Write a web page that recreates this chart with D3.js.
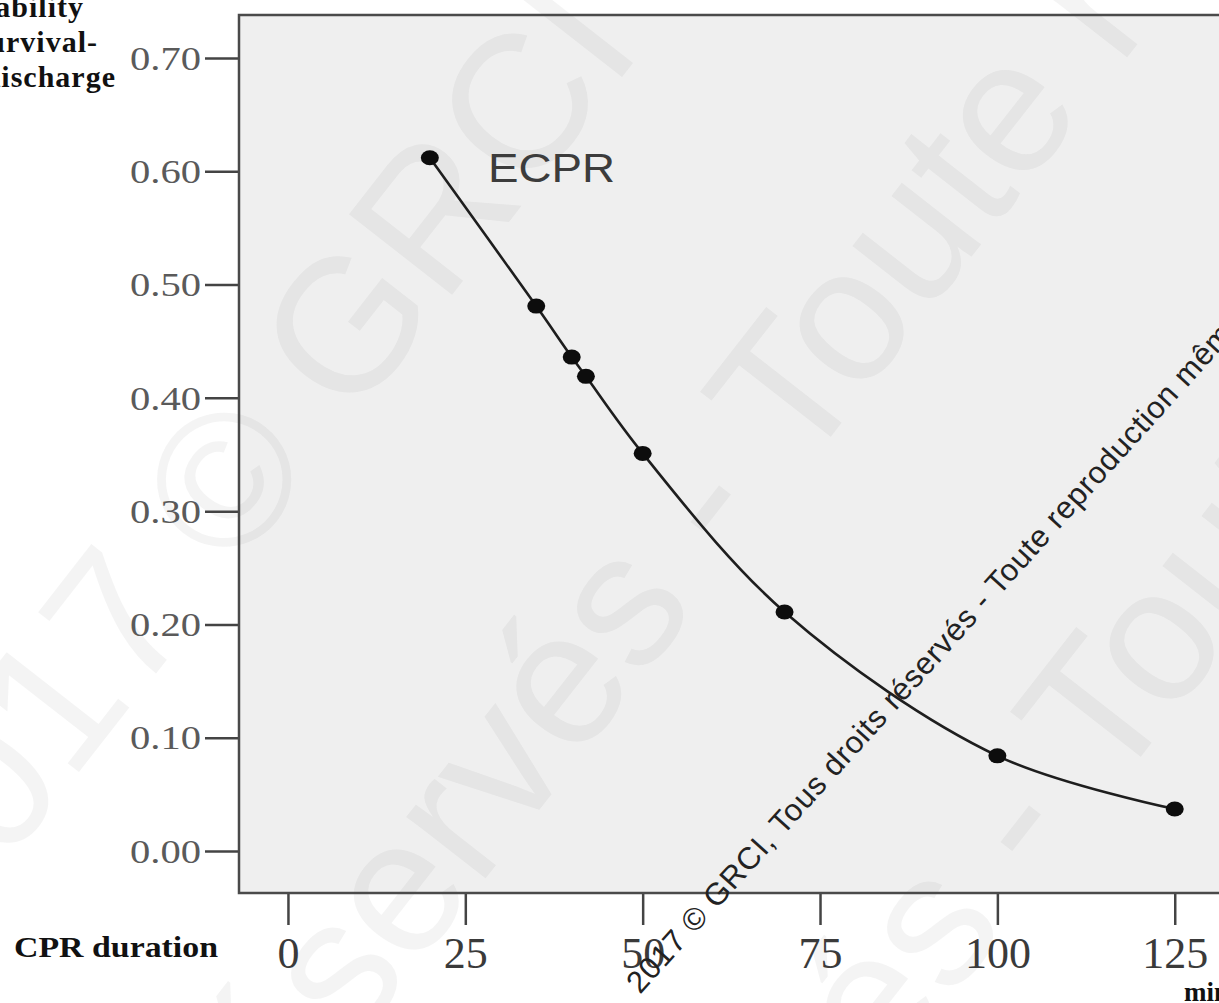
<!DOCTYPE html>
<html>
<head>
<meta charset="utf-8">
<script src="https://cdn.jsdelivr.net/npm/d3@7"></script>
<style>
  html, body { margin: 0; padding: 0; background: #fff; }
  svg { display: block; }
</style>
</head>
<body>
<svg id="chart" width="1219" height="1003"></svg>
<script>
// data
var cprMinutes = [20, 35, 40, 42, 50, 70, 100, 125];
var survival   = [0.612, 0.481, 0.436, 0.419, 0.351, 0.211, 0.084, 0.037];
var xTicks = [0, 25, 50, 75, 100, 125];
var yTicks = [0, 0.1, 0.2, 0.3, 0.4, 0.5, 0.6, 0.7];
var yTitle = ["Probability", "of survival-", "to discharge"];
var seriesName = "ECPR";
var stamp = "2017 © GRCI, Tous droits réservés - Toute reproduction même partielle interdite";

var svg = d3.select("#chart");

var plotL = 239, plotT = 15, plotB = 893, plotR = 1240;

var x = d3.scaleLinear().domain([-6.9, 134.2]).range([plotL, plotR]);
var y = d3.scaleLinear().domain([-0.0371, 0.738]).range([plotB, plotT]);

// plot background
svg.append("rect")
  .attr("x", plotL).attr("y", plotT)
  .attr("width", plotR - plotL).attr("height", plotB - plotT)
  .attr("fill", "#efefef");

// faint big watermark
var wm = svg.append("g")
  .attr("font-family", "'Liberation Sans', Arial, sans-serif")
  .attr("font-size", 190)
  .attr("fill", "#666")
  .attr("fill-opacity", 0.07);
var wmRows = [
  { t: "partielle est interdite", x: -560, y: 640 },
  { t: "2017 © GRCI France", x: -60, y: 950 },
  { t: "réservés - Toute reproduction", x: 250, y: 1180 },
  { t: "réservés - Toute lien", x: 560, y: 1500 }
];
wm.selectAll("text")
  .data(wmRows)
  .enter().append("text")
  .attr("transform", function(d) { return "translate(" + d.x + "," + d.y + ") rotate(-52)"; })
  .text(function(d) { return d.t; });

// y axis
var gy = svg.append("g")
  .attr("transform", "translate(" + plotL + ",0)")
  .call(d3.axisLeft(y).tickValues(yTicks).tickFormat(d3.format(".2f")).tickSize(34).tickPadding(4));
gy.select(".domain").remove();
gy.selectAll(".tick line").attr("stroke", "#444").attr("stroke-width", 2.5);
gy.selectAll(".tick text")
  .attr("fill", "#5a5a5a")
  .attr("font-family", "'Liberation Serif', 'Times New Roman', serif")
  .attr("font-size", 33)
  .attr("dy", "0.34em")
  .attr("textLength", 71)
  .attr("lengthAdjust", "spacingAndGlyphs");

// x axis
var gx = svg.append("g")
  .attr("transform", "translate(0," + plotB + ")")
  .call(d3.axisBottom(x).tickValues(xTicks).tickSize(32));
gx.select(".domain").remove();
gx.selectAll(".tick line").attr("stroke", "#444").attr("stroke-width", 2.5);
gx.selectAll(".tick text")
  .attr("y", 75).attr("dy", 0)
  .attr("fill", "#3a3a3a")
  .attr("font-family", "'Liberation Serif', 'Times New Roman', serif")
  .attr("font-size", 44);

// frame
svg.append("rect")
  .attr("x", plotL).attr("y", plotT)
  .attr("width", plotR - plotL).attr("height", plotB - plotT)
  .attr("fill", "none")
  .attr("stroke", "#4a4a4a").attr("stroke-width", 2.5);

// curve + markers
var pts = cprMinutes.map(function(m, i) { return [m, survival[i]]; });
var line = d3.line()
  .x(function(d) { return x(d[0]); })
  .y(function(d) { return y(d[1]); })
  .curve(d3.curveCatmullRom.alpha(0.5));

svg.append("path")
  .datum(pts)
  .attr("d", line)
  .attr("fill", "none")
  .attr("stroke", "#1e1e1e")
  .attr("stroke-width", 2.6);

svg.selectAll("ellipse.pt")
  .data(pts)
  .enter().append("ellipse")
  .attr("class", "pt")
  .attr("cx", function(d) { return x(d[0]); })
  .attr("cy", function(d) { return y(d[1]); })
  .attr("rx", 9).attr("ry", 7.5)
  .attr("fill", "#0d0d0d");

svg.append("text")
  .attr("x", x(28.2)).attr("y", y(0.591))
  .attr("font-family", "'Liberation Sans', Arial, sans-serif")
  .attr("font-size", 40)
  .attr("textLength", 127)
  .attr("lengthAdjust", "spacingAndGlyphs")
  .attr("fill", "#3c3c3c")
  .text(seriesName);

// axis titles
var serif = "'Liberation Serif', 'Times New Roman', serif";
var titleEnds = [84, 98, 116];
svg.selectAll("text.ytitle")
  .data(yTitle)
  .enter().append("text")
  .attr("class", "ytitle")
  .attr("x", function(d, i) { return titleEnds[i]; })
  .attr("y", function(d, i) { return 17 + i * 35; })
  .attr("text-anchor", "end")
  .attr("font-family", serif)
  .attr("font-weight", "bold")
  .attr("font-size", 30)
  .attr("letter-spacing", 1)
  .attr("fill", "#111")
  .text(function(d) { return d; });

svg.append("text")
  .attr("x", 14).attr("y", 957)
  .attr("font-family", serif)
  .attr("font-weight", "bold")
  .attr("font-size", 29)
  .attr("textLength", 204)
  .attr("lengthAdjust", "spacingAndGlyphs")
  .attr("fill", "#111")
  .text("CPR duration");

svg.append("text")
  .attr("x", 1184).attr("y", 1001)
  .attr("font-family", serif)
  .attr("font-weight", "bold")
  .attr("font-size", 27)
  .attr("fill", "#111")
  .text("min");

// diagonal copyright line
svg.append("text")
  .attr("transform", "translate(640,995) rotate(-48)")
  .attr("font-family", "'Liberation Sans', Arial, sans-serif")
  .attr("font-size", 31)
  .attr("letter-spacing", 0.8)
  .attr("fill", "#222")
  .text(stamp);
</script>
</body>
</html>
